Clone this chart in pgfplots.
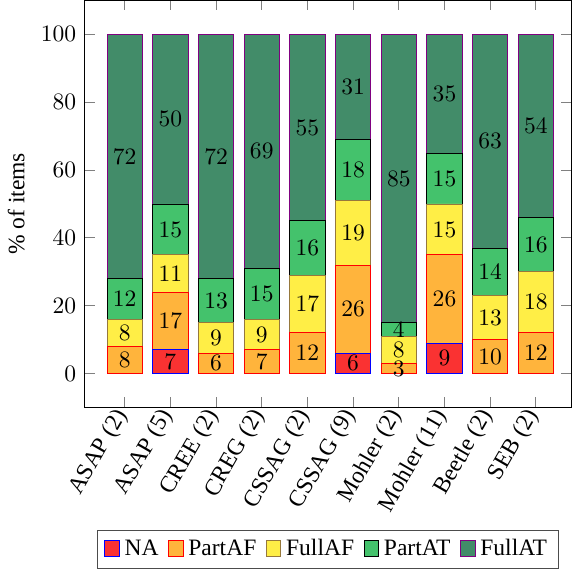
\documentclass[border=0pt]{standalone}
\usepackage{fontspec}
\setmainfont{Liberation Serif}
\usepackage{pgfplots}
\usepackage{pgfplotstable}
\pgfplotsset{compat=1.18}
\definecolor{cNA}{RGB}{250,50,50}
\definecolor{cPAF}{RGB}{255,180,60}
\definecolor{cFAF}{RGB}{255,238,70}
\definecolor{cPAT}{RGB}{68,194,108}
\definecolor{cFAT}{RGB}{66,140,105}
\definecolor{eFAF}{RGB}{150,120,60}
\pgfplotstableread{
x NA PartAF FullAF PartAT FullAT
0 0 8 8 12 72
1 7 17 11 15 50
2 0 6 9 13 72
3 0 7 9 15 69
4 0 12 17 16 55
5 6 26 19 18 31
6 0 3 8 4 85
7 9 26 15 15 35
8 0 10 13 14 63
9 0 12 18 16 54
}\datatable
\begin{document}
\begin{tikzpicture}
\begin{axis}[
  width=207pt, height=173pt, scale only axis,
  ybar stacked, bar width=15pt,
  xmin=-0.88, xmax=9.78, ymin=-10, ymax=110,
  xtick={0,...,9},
  xticklabels={ASAP (2), ASAP (5), CREE (2), CREG (2), CSSAG (2), CSSAG (9), Mohler (2), Mohler (11), Beetle (2), SEB (2)},
  x tick label style={rotate=60, anchor=east, inner sep=2pt},
  ytick={0,20,...,100},
  tick style={gray, thin},
  tick align=inside,
  ylabel={\% of items},
  nodes near coords={\pgfmathfloatifflags{\pgfplotspointmeta}{0}{}{\pgfmathprintnumber{\pgfplotspointmeta}}},
  every node near coord/.append style={anchor=center, black},
  legend style={at={(0.5,-0.30)}, anchor=north, legend columns=5, draw=black!70,
    /tikz/every even column/.append style={column sep=2pt}},
  legend image code/.code={\draw[#1] (0cm,-0.1cm) rectangle (0.22cm,0.14cm);},
]
\addplot[fill=cNA, draw=blue] table[x=x,y=NA]{\datatable};
\addplot[fill=cPAF, draw=red] table[x=x,y=PartAF]{\datatable};
\addplot[fill=cFAF, draw=eFAF] table[x=x,y=FullAF]{\datatable};
\addplot[fill=cPAT, draw=black] table[x=x,y=PartAT]{\datatable};
\addplot[fill=cFAT, draw=violet] table[x=x,y=FullAT]{\datatable};
\legend{NA, PartAF, FullAF, PartAT, FullAT}
\end{axis}
\end{tikzpicture}
\end{document}
